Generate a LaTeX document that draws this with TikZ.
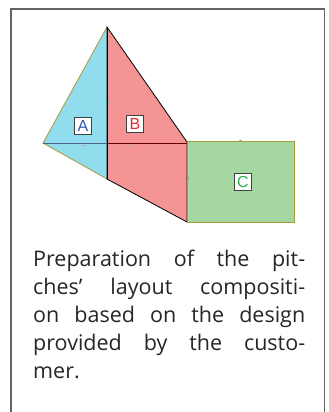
\documentclass[tikz,border=0pt]{standalone}
\usepackage{fontspec}
\setmainfont{Open Sans}
\newfontfamily\tagfont{Liberation Sans}
\usepackage{xcolor}
\usetikzlibrary{positioning}

\definecolor{pitchA}{RGB}{143,221,237}
\definecolor{pitchB}{RGB}{245,148,148}
\definecolor{pitchC}{RGB}{165,216,161}
\definecolor{olive}{RGB}{170,155,60}
\definecolor{frame}{RGB}{100,100,100}
\definecolor{tagA}{RGB}{40,90,175}
\definecolor{tagB}{RGB}{230,40,45}
\definecolor{tagC}{RGB}{45,175,75}

\tikzset{
  tag/.style={draw=black!75, fill=white, line width=0.9pt, inner sep=0pt,
    minimum width=17pt, minimum height=16.5pt, font=\tagfont\fontsize{16}{16}\selectfont},
  tick/.style={black!35, line width=0.7pt}
}

\begin{document}
\begin{tikzpicture}[x=1pt, y=-1pt]
        \useasboundingbox (0,0) rectangle (329,412);

        % Frame
        \draw[frame, line width=1.2pt] (11,412) -- (11,9) -- (324.5,9) -- (324.5,412);

        % Pitch A
        \fill[pitchA] (107,27) -- (43,143) -- (107,179) -- cycle;
        % Pitch B
        \fill[pitchB] (107,27) -- (187,142) -- (187,222) -- (107,179) -- cycle;
        % Pitch C
        \fill[pitchC] (187,141) rectangle (294,222);

        % Outlines
        \draw[olive, line width=0.8pt] (107,27) -- (43,143) -- (107,179);
        \draw[black, line width=0.8pt] (107,27) -- (187,142) -- (187,222) -- (107,179) -- cycle;
        \draw[black!60!cyan!70!blue, line width=0.8pt] (43,143) -- (107,143);
        \draw[red!40!black, line width=0.8pt] (107,143) -- (187,143);
        \draw[olive, line width=1pt] (187,141) rectangle (294,222);
        \draw[black, line width=0.8pt] (107,27) -- (107,179);

        % Edge marks
        \draw[tick] (81.5,145.5) -- (84.5,145.5);
        \draw[tick] (129.5,145.5) -- (132.5,145.5);
        \draw[tick] (239,140) -- (242,140);
        \draw[tick] (108.5,101) -- (108.5,104);
        \draw[tick] (188.5,177) -- (188.5,180);

        % Labels
        \node[tag, text=tagA] (labA) at (83,126) {A};
        \node[tag, text=tagB] (labB) at (135,124) {B};
        \node[tag, text=tagC] (labC) at (243,182) {C};

        % Caption
        \node[anchor=base west, inner sep=0, text width=272pt, align=justify,
              font=\fontsize{21.5}{28}\selectfont, text=black!85] (caption) at (33,266)
          {Preparation of the pit-\linebreak ches’ layout compositi-\linebreak on based on the design\linebreak provided by the custo-\linebreak mer.};
\end{tikzpicture}
\end{document}
